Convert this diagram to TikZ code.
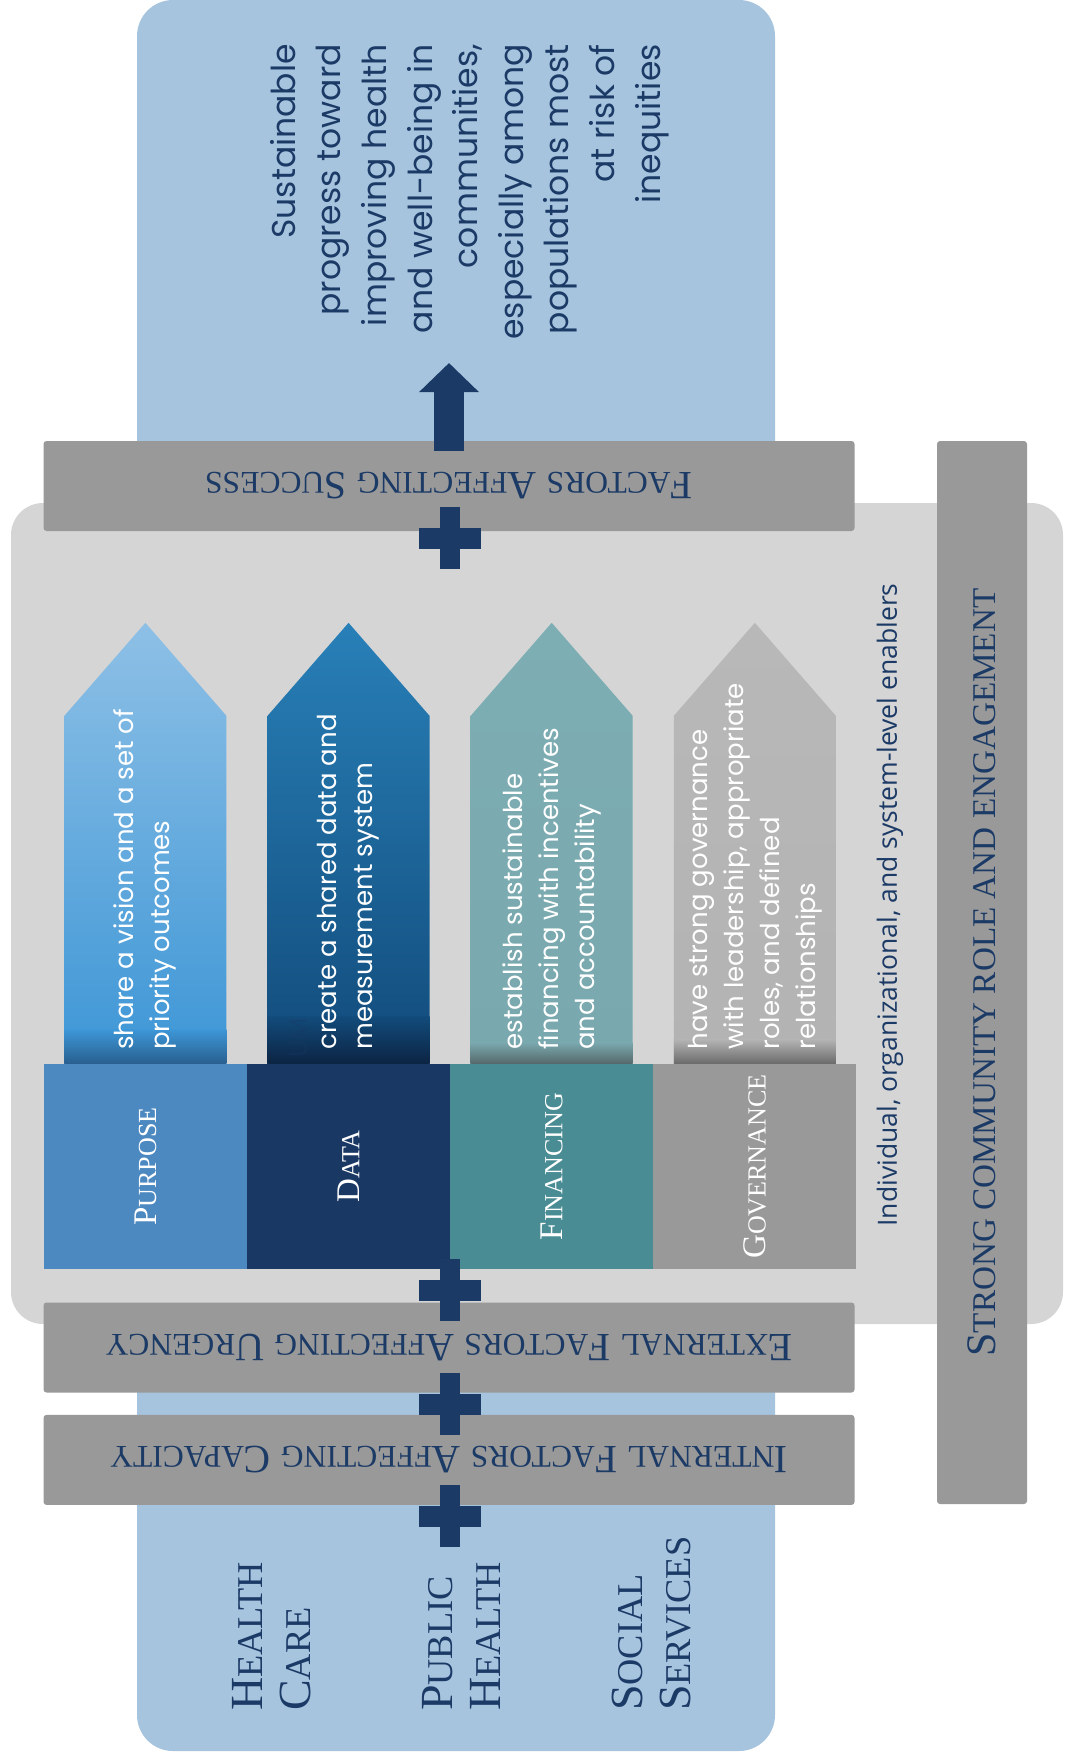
\documentclass[tikz,border=0pt]{standalone}
\usepackage{fontspec}
\usetikzlibrary{positioning,arrows.meta}

\newfontfamily\geosans{Poppins}
\newfontfamily\plainsans{Open Sans}
\newfontfamily\capserif{Liberation Serif}

% first letter full size, the rest as smaller capitals
\makeatletter
\newcommand\scword[2]{#1{\fontsize{\fpeval{0.79*\f@size}}{\f@baselineskip}\selectfont\MakeUppercase{#2}}}
\makeatother

\definecolor{skyblue}{HTML}{A7C4DF}
\definecolor{panelgray}{HTML}{D5D5D5}
\definecolor{bargray}{HTML}{999999}
\definecolor{navy}{HTML}{1B3A66}
\definecolor{purposefill}{HTML}{4D89C1}
\definecolor{datafill}{HTML}{193864}
\definecolor{financefill}{HTML}{4A8C94}
\definecolor{govfill}{HTML}{999999}
% pillar gradients
\definecolor{purposetop}{HTML}{8EC0E6}
\definecolor{purposemid}{HTML}{3D96D6}
\definecolor{purposebot}{HTML}{285F8F}
\definecolor{datatop}{HTML}{2880B8}
\definecolor{datamid}{HTML}{124B7B}
\definecolor{databot}{HTML}{0C2443}
\definecolor{financetop}{HTML}{7DAEB4}
\definecolor{financemid}{HTML}{79A8AE}
\definecolor{financebot}{HTML}{55686A}
\definecolor{govtop}{HTML}{B8B8B8}
\definecolor{govmid}{HTML}{B3B3B3}
\definecolor{govbot}{HTML}{6A6A6A}

\begin{document}
\begin{tikzpicture}[x=1pt,y=-1pt,
  backbox/.style={fill=skyblue,rounded corners=36pt},
  bar/.style={rectangle,fill=bargray,rounded corners=3pt,inner sep=0pt,
    minimum width=811pt,minimum height=90pt},
  bartext/.style={text=navy,font=\capserif\fontsize{40}{40}\selectfont,rotate=180},
  sidetext/.style={text=navy,font=\capserif\fontsize{42}{42}\selectfont,rotate=90},
  base/.style={rectangle,inner sep=0pt,minimum width=202.75pt,minimum height=205pt},
  basetext/.style={text=white,font=\capserif\fontsize{33}{33}\selectfont,rotate=90},
  pillartext/.style={text=white,font=\geosans\fontsize{26}{36}\selectfont,
    rotate=90,align=left,anchor=west,inner sep=0pt},
  goaltext/.style={text=navy,font=\geosans\fontsize{33}{45.6}\selectfont,
    rotate=90,align=right,anchor=north east,inner sep=0pt},
  sectortext/.style={text=navy,font=\capserif\fontsize{46}{48}\selectfont,
    rotate=90,align=left,anchor=north west,inner sep=0pt},
  enablertext/.style={text=navy,font=\plainsans\fontsize{26.5}{26.5}\selectfont,rotate=90},
  plussign/.style={fill=navy},
  bigarrow/.style={draw=navy,line width=30pt,-{Triangle[length=29pt,width=58pt]}}]
  \useasboundingbox (0,0) rectangle (1065,1760);
  % Background columns and panel
  \fill[backbox] (137,0) rectangle (775,480);
  \fill[backbox] (137,1330) rectangle (775,1751);
  \fill[panelgray,rounded corners=32pt] (11,503) rectangle (1063,1324);

  % Bars
  \node[bar] (success) at (449,486) {};
  \node[bartext] at (success) {\scword{F}{actors} \scword{A}{ffecting} \scword{S}{uccess}};
  \node[bar,minimum width=90pt,minimum height=1063pt] (community) at (982,972.5) {};
  \node[sidetext] at (community)
    {\scword{S}{trong community role and engagement}};
  \node[bar] (external) at (449,1347.5) {};
  \node[bartext] at (external)
    {\scword{E}{xternal} \scword{F}{actors} \scword{A}{ffecting} \scword{U}{rgency}};
  \node[bar,below=22pt of external] (internal) {};
  \node[bartext] at (internal)
    {\scword{I}{nternal} \scword{F}{actors} \scword{A}{ffecting} \scword{C}{apacity}};

  % Foundations
  \node[base,fill=purposefill] (purpose) at (145.4,1166.5) {};
  \node[base,fill=datafill,right=0pt of purpose] (data) {};
  \node[base,fill=financefill,right=0pt of data] (financing) {};
  \node[base,fill=govfill,right=0pt of financing] (governance) {};

  % Pillars
  \foreach \col/\lbl/\ctop/\cmid/\cbot/\band in {
      purpose/{\scword{P}{urpose}}/purposetop/purposemid/purposebot/34pt,
      data/{\scword{D}{ata}}/datatop/datamid/databot/47pt,
      financing/{\scword{F}{inancing}}/financetop/financemid/financebot/21pt,
      governance/{\scword{G}{overnance}}/govtop/govmid/govbot/24pt}{
    \shade[top color=\ctop,bottom color=\cmid]
      ([xshift=-81pt]\col.north) -- ([shift={(-81pt,348pt)}]\col.north)
      -- ([yshift=441pt]\col.north) -- ([shift={(81pt,348pt)}]\col.north)
      -- ([xshift=81pt]\col.north) -- cycle;
    \shade[top color=\cmid,bottom color=\cbot]
      ([shift={(-81pt,\band)}]\col.north) rectangle ([xshift=81pt]\col.north);
    \node[basetext] at (\col) {\lbl};
  }
  \node[pillartext] (purposegoal) at ([yshift=14pt]purpose.north)
    {share a vision and a set of\\priority outcomes};
  \node[pillartext,text=navy,opacity=0.3] (ghost) at (299,1058) {UM};
  \node[pillartext] (datagoal) at ([yshift=14pt]data.north)
    {create a shared data and\\measurement system};
  \node[pillartext] (financinggoal) at ([yshift=14pt]financing.north)
    {establish sustainable\\financing with incentives\\and accountability};
  \node[pillartext] (governancegoal) at ([yshift=14pt]governance.north)
    {have strong governance\\with leadership, appropriate\\roles, and defined\\relationships};
  \node[enablertext] (enablers) at (890,905)
    {Individual, organizational, and system-level enablers};

  % Sectors
  \node[sectortext] (healthcare) at (232,1711) {\scword{H}{ealth}\\\scword{C}{are}};
  \node[sectortext] (publichealth) at (422,1711) {\scword{P}{ublic}\\\scword{H}{ealth}};
  \node[sectortext] (socialservices) at (612,1711) {\scword{S}{ocial}\\\scword{S}{ervices}};

  % Goal
  \node[goaltext] (goal) at (270,44)
    {Sustainable\\progress toward\\improving health\\and well-being in\\communities,\\especially among\\populations most\\at risk of\\inequities};
  \coordinate (goaltip) at (449,363);
  \draw[bigarrow] ([yshift=-10pt]success.north) -- (goaltip);

  % Plus signs
  \foreach \py in {538,1290,1404,1516}{
    \fill[plussign] (419,\py-10.5) rectangle (481,\py+10.5);
    \fill[plussign] (440,\py-31) rectangle (460,\py+31);
  }
\end{tikzpicture}
\end{document}
